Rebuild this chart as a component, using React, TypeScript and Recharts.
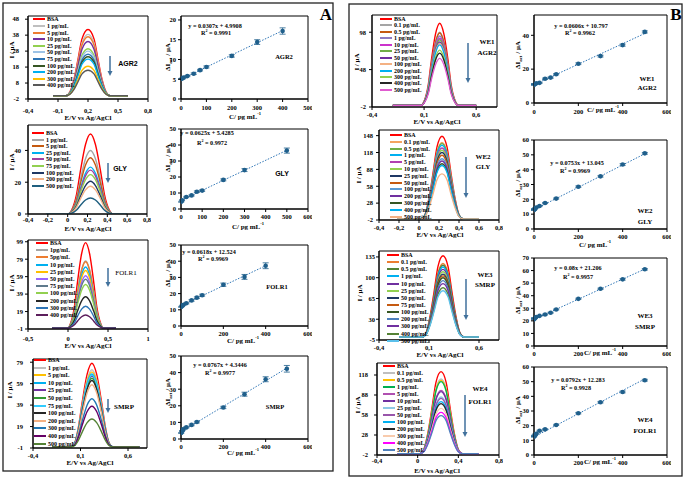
import React from "react"
import { LineChart, Line, XAxis, YAxis, ReferenceArea, ComposedChart, Scatter, ErrorBar } from "recharts"

const SERIF = "'Liberation Serif','Times New Roman',serif"
const SANS = "'Liberation Sans',Arial,sans-serif"
const DOT = "#1f5f8b"
const TREND = "#2e75b6"
const ARROW = "#41719c"

// ---------------- panel A : DPV curves ----------------
const agr2Labels = ["BSA", "1 pg/mL", "5 pg/mL", "10 pg/mL", "25 pg/mL", "50 pg/mL", "75 pg/mL", "100 pg/mL", "200 pg/mL", "300 pg/mL", "400 pg/mL"]
const agr2Peaks = [41.5, 38.5, 37, 34, 29.5, 28, 26, 24.5, 23, 18.5, 16]
const agr2Colors = ["#ff0000", "#bfbfbf", "#ed7d31", "#7030a0", "#92d050", "#9dc3e6", "#2e75b6", "#375623", "#00b0f0", "#ffc000", "#595959"]
const agr2E = [-0.15, -0.02, 0.02, 0.06, 0.1, 0.14, 0.2, 0.26, 0.3, 0.34, 0.38, 0.42, 0.6]
const agr2Shape = [0, 0, 0.06, 0.25, 0.55, 0.86, 1, 0.86, 0.55, 0.25, 0.06, 0, 0]

const glyLabels = ["BSA", "1 pg/mL", "5 pg/mL", "25 pg/mL", "50 pg/mL", "75 pg/mL", "100 pg/mL", "200 pg/mL", "500 pg/mL"]
const glyPeaks = [50.3, 40, 35.4, 29.5, 27.6, 24.8, 20.6, 17.5, 10.1]
const glyColors = ["#ff0000", "#a5a5a5", "#c55a11", "#00b0f0", "#a040a0", "#92d050", "#1f3864", "#f4b183", "#1f5f7f"]
const glyE = [-0.22, 0, 0.04, 0.09, 0.13, 0.18, 0.23, 0.28, 0.33, 0.37, 0.42, 0.46, 0.6]
const glyShape = [0, 0, 0.05, 0.25, 0.55, 0.87, 1, 0.87, 0.55, 0.25, 0.05, 0, 0]

const folLabels = ["BSA", "1pg/mL", "5pg/mL", "10 pg/mL", "25 pg/mL", "50 pg/mL", "75 pg/mL", "100 pg/mL", "200 pg/mL", "300 pg/mL", "400 pg/mL"]
const folPeaks = [98, 77, 76, 70, 66, 60, 56, 50, 36, 25, 15]
const folColors = ["#ff0000", "#a5a5a5", "#ed7d31", "#00b0f0", "#ffc000", "#9966ff", "#5f7a8c", "#92d050", "#262626", "#2e75b6", "#5c1e5c"]
const folE = [-0.2, 0, 0.03, 0.08, 0.12, 0.17, 0.22, 0.27, 0.32, 0.36, 0.41, 0.44, 0.6]
const folShape = [0, 0, 0.05, 0.25, 0.55, 0.87, 1, 0.87, 0.55, 0.25, 0.05, 0, 0]

const smrpLabels = ["BSA", "1 pg/mL", "5 pg/mL", "10 pg/mL", "25 pg/mL", "50 pg/mL", "75 pg/mL", "100 pg/mL", "200 pg/mL", "300 pg/mL", "400 pg/mL", "500 pg/mL"]
const smrpPeaks = [78, 72, 70, 68, 66, 64, 67, 62, 58, 45, 38, 26]
const smrpColors = ["#ff0000", "#bfbfbf", "#ffc000", "#00b0f0", "#7030a0", "#339933", "#33ccff", "#262626", "#f4b183", "#1f77b4", "#660066", "#548235"]
const smrpE = [-0.2, 0, 0.04, 0.08, 0.12, 0.17, 0.22, 0.27, 0.32, 0.36, 0.4, 0.44, 0.72]
const smrpShape = [0, 0, 0.05, 0.25, 0.55, 0.87, 1, 0.87, 0.55, 0.25, 0.05, 0, 0]

// ---------------- panel B : DPV curves ----------------
const we1Labels = ["BSA", "0.1 pg/mL", "0.5 pg/mL", "1 pg/mL", "10 pg/mL", "25 pg/mL", "50 pg/mL", "100 pg/mL", "200 pg/mL", "300 pg/mL", "400 pg/mL", "500 pg/mL"]
const we1Peaks = [110, 98, 97, 93, 90, 88, 85, 83, 81, 74, 70, 63]
const we1Colors = ["#ff0000", "#a5a5a5", "#c55a11", "#8e7cc3", "#cc33cc", "#70ad47", "#7030a0", "#f4b183", "#00b0f0", "#92d050", "#262626", "#e05cd0"]
const we1E = [-0.2, 0.07, 0.1, 0.14, 0.17, 0.21, 0.25, 0.29, 0.33, 0.36, 0.4, 0.43, 0.6]
const we1Shape = [0, 0, 0.05, 0.25, 0.55, 0.87, 1, 0.87, 0.55, 0.25, 0.05, 0, 0]

const we2Labels = ["BSA", "0.1 pg/mL", "0.5 pg/mL", "1 pg/mL", "5 pg/mL", "10 pg/mL", "25 pg/mL", "50 pg/mL", "100 pg/mL", "200 pg/mL", "300 pg/mL", "400 pg/mL", "500 pg/mL"]
const we2Peaks = [147, 136, 134, 131, 126, 122, 118, 113, 107, 103, 98, 95, 80]
const we2Colors = ["#ff0000", "#f4a460", "#70ad47", "#00b0f0", "#b040b0", "#92d050", "#1f3864", "#c55a11", "#5b9bd5", "#7030a0", "#375623", "#00b0f0", "#f4b183"]
const we2E = [-0.22, 0.02, 0.06, 0.1, 0.14, 0.18, 0.23, 0.28, 0.32, 0.36, 0.4, 0.44, 0.6]
const we2Shape = [0, 0, 0.05, 0.25, 0.55, 0.87, 1, 0.87, 0.55, 0.25, 0.05, 0, 0]

const we3Labels = ["BSA", "0.1 pg/mL", "0.5 pg/mL", "1 pg/mL", "10 pg/mL", "25 pg/mL", "50 pg/mL", "75 pg/mL", "100 pg/mL", "200 pg/mL", "300 pg/mL", "400 pg/mL", "500 pg/mL"]
const we3Peaks = [137, 124, 121, 118, 114, 110, 106, 103, 100, 95, 90, 83, 78]
const we3Colors = ["#ff0000", "#ed7d31", "#548235", "#00b0f0", "#7030a0", "#92d050", "#1f3864", "#c55a11", "#375623", "#4f81bd", "#7030a0", "#548235", "#5bc0eb"]
const we3E = [-0.2, 0.03, 0.07, 0.11, 0.15, 0.19, 0.24, 0.29, 0.33, 0.37, 0.41, 0.45, 0.6]
const we3Shape = [0, 0, 0.05, 0.25, 0.55, 0.87, 1, 0.87, 0.55, 0.25, 0.05, 0, 0]

const we4Labels = ["BSA", "0.1 pg/mL", "0.5 pg/mL", "1 pg/mL", "5 pg/mL", "10 pg/mL", "25 pg/mL", "50 pg/mL", "100 pg/mL", "200 pg/mL", "300 pg/mL", "400 pg/mL", "500 pg/mL"]
const we4Peaks = [123, 112, 110, 108, 95, 93, 85, 83, 78, 75, 68, 62, 57]
const we4Colors = ["#ff0000", "#bfbfbf", "#ffc000", "#00b050", "#b050b0", "#7030a0", "#8ecae6", "#9955aa", "#00b0f0", "#262626", "#f8cbad", "#ff00ff", "#4f81bd"]
const we4E = [-0.2, 0.02, 0.06, 0.1, 0.14, 0.18, 0.23, 0.28, 0.32, 0.36, 0.4, 0.44, 0.6]
const we4Shape = [0, 0, 0.05, 0.25, 0.55, 0.87, 1, 0.87, 0.55, 0.25, 0.05, 0, 0]

// ---------------- calibration points ----------------
const agr2Conc = [1, 5, 10, 25, 50, 75, 100, 200, 300, 400]
const agr2Delta = [5.1, 5.2, 5.4, 5.8, 6.4, 7.3, 8.1, 10.9, 14.4, 17.2]
const agr2Err = [0.1, 0.1, 0.1, 0.15, 0.2, 0.2, 0.25, 0.3, 0.6, 0.8]
const agr2Fit = [[0, 5.0], [400, 17.3]]

const glyConc = [1, 5, 25, 50, 75, 100, 200, 300, 500]
const glyDelta = [4.5, 5.5, 7.5, 8.5, 10.8, 11.5, 18.2, 24.3, 36.5]
const glyErr = [0.3, 0.3, 0.4, 0.4, 0.5, 0.5, 0.6, 0.9, 1.6]
const glyFit = [[0, 5.4], [500, 36.7]]

const folConc = [1, 5, 10, 25, 50, 75, 100, 200, 300, 400]
const folDelta = [11.8, 12.5, 13, 14, 15.8, 17.5, 19, 25.5, 30.3, 37.2]
const folErr = [0.3, 0.3, 0.4, 0.4, 0.5, 0.5, 0.6, 1.0, 1.5, 1.8]
const folFit = [[0, 12.5], [400, 37.2]]

const smrpConc = [1, 5, 10, 25, 50, 75, 200, 300, 400, 500]
const smrpDelta = [3.6, 4.8, 5.8, 7.0, 8.5, 10.2, 19, 27, 36, 42.3]
const smrpErr = [0.3, 0.3, 0.4, 0.4, 0.5, 0.5, 0.7, 1.2, 1.5, 2.0]
const smrpFit = [[0, 4.3], [500, 42.7]]

const we1Conc = [0.1, 0.5, 1, 10, 25, 50, 75, 100, 200, 300, 400, 500]
const we1Delta = [10.8, 11.0, 11.2, 11.6, 11.9, 14.3, 15, 17, 23.2, 27.7, 34.2, 42]
const we1Err = [0.3, 0.3, 0.3, 0.3, 0.3, 0.4, 0.4, 0.4, 0.5, 0.5, 0.6, 0.6]
const we1Fit = [[0, 10.8], [500, 41.1]]

const we2Conc = [0.1, 0.5, 1, 5, 10, 25, 50, 100, 200, 300, 400, 500]
const we2Delta = [12.8, 13.2, 13.5, 14.0, 14.5, 15.5, 17.5, 20.5, 28.5, 35.5, 43.5, 51]
const we2Err = [0.3, 0.3, 0.3, 0.3, 0.3, 0.4, 0.4, 0.4, 0.5, 0.5, 0.6, 0.6]
const we2Fit = [[0, 13.0], [500, 50.7]]

const we3Conc = [0.1, 0.5, 1, 10, 25, 50, 75, 100, 200, 300, 400, 500]
const we3Delta = [21.2, 21.8, 22.3, 23, 24, 25, 26.5, 29, 37.5, 45.5, 53, 61]
const we3Err = [0.3, 0.3, 0.3, 0.3, 0.3, 0.4, 0.4, 0.4, 0.5, 0.5, 0.6, 0.6]
const we3Fit = [[0, 21.2], [500, 61.2]]

const we4Conc = [0.1, 0.5, 1, 5, 10, 25, 50, 100, 200, 300, 400, 500]
const we4Delta = [12.5, 12.8, 13.2, 14, 14.5, 16.5, 17.5, 20.5, 28.5, 36, 43, 51]
const we4Err = [0.3, 0.3, 0.3, 0.3, 0.3, 0.4, 0.4, 0.4, 0.5, 0.5, 0.6, 0.6]
const we4Fit = [[0, 12.3], [500, 51.9]]

const comma = (v: number) => String(v).replace(".", ",")
const tickFont = { fontSize: 6.5, fontWeight: 700, fontFamily: SERIF, fill: "#000" }

function Txt({ x, y, fs = 7, sans = false, bold = true, rot = false, children }: any) {
  return (
    <div
      style={{
        position: "absolute", left: x, top: y, whiteSpace: "nowrap", lineHeight: 1,
        transform: `translate(-50%,-50%)${rot ? " rotate(-90deg)" : ""}`,
        fontSize: fs, fontWeight: bold ? 700 : 400, fontFamily: sans ? SANS : SERIF, color: "#000",
      }}
    >
      {children}
    </div>
  )
}

const Sup = ({ children }: any) => <span style={{ fontSize: "0.65em", verticalAlign: "super", lineHeight: 0 }}>{children}</span>
const Sub = ({ children }: any) => <span style={{ fontSize: "0.7em", verticalAlign: "sub", lineHeight: 0 }}>{children}</span>

function PeakLegend({ x, y, row, labels, colors, fs = 6, lineW = 12 }: any) {
  return (
    <div style={{ position: "absolute", left: x, top: y - row / 2 }}>
      {labels.map((l: string, i: number) => (
        <div key={l} style={{ position: "absolute", left: 0, top: i * row, height: row, display: "flex", alignItems: "center", whiteSpace: "nowrap" }}>
          <span style={{ display: "inline-block", width: lineW, borderTop: `2px solid ${colors[i]}`, marginRight: 2 }} />
          <span style={{ fontSize: fs, fontWeight: 700, fontFamily: SERIF, lineHeight: 1 }}>{l}</span>
        </div>
      ))}
    </div>
  )
}

function Dpv({ box, E, shape, peaks, colors, xDomain, xTicks, yDomain, yTicks, xOff = 8, yGap = 6 }: any) {
  const [bx, by, bw, bh] = box
  const L = 34, T = 4, R = 4, B = 24
  const rows = E.map((e: number, i: number) => {
    const r: any = { E: e }
    peaks.forEach((p: number, j: number) => (r["s" + j] = +(p * shape[i]).toFixed(2)))
    return r
  })
  return (
    <div style={{ position: "absolute", left: bx - L, top: by - T }}>
      <LineChart width={bw + L + R} height={bh + T + B} data={rows} margin={{ top: T, right: R, left: 0, bottom: 0 }}>
        <XAxis dataKey="E" type="number" domain={xDomain} ticks={xTicks} interval={0} allowDataOverflow height={B}
          tickFormatter={comma} tick={tickFont} tickSize={3} tickMargin={Math.max(0, xOff - 5.3)}
          axisLine={{ stroke: "#000" }} tickLine={{ stroke: "#000" }} />
        <YAxis type="number" domain={yDomain} ticks={yTicks} interval={0} allowDataOverflow width={L}
          tick={tickFont} tickSize={3} tickMargin={Math.max(0, yGap - 3)}
          axisLine={{ stroke: "#000" }} tickLine={{ stroke: "#000" }} />
        <ReferenceArea x1={xDomain[0]} x2={xDomain[1]} y1={yDomain[0]} y2={yDomain[1]} fill="none" stroke="#000" strokeWidth={1} ifOverflow="visible" />
        {peaks.map((_: number, j: number) => (
          <Line key={j} dataKey={"s" + j} type="monotone" stroke={colors[j]} strokeWidth={1.4} dot={false} isAnimationActive={false} />
        ))}
      </LineChart>
    </div>
  )
}

function Calib({ box, conc, delta, err, fit, xDomain, xTicks, yDomain, yTicks, xOff = 8, yGap = 5 }: any) {
  const [bx, by, bw, bh] = box
  const L = 34, T = 4, R = 4, B = 24
  const pts = conc.map((c: number, i: number) => ({ c, v: delta[i], e: err[i] }))
  const line = fit.map((f: number[]) => ({ c: f[0], v: f[1] }))
  return (
    <div style={{ position: "absolute", left: bx - L, top: by - T }}>
      <ComposedChart width={bw + L + R} height={bh + T + B} margin={{ top: T, right: R, left: 0, bottom: 0 }}>
        <XAxis dataKey="c" type="number" domain={xDomain} ticks={xTicks} interval={0} allowDataOverflow height={B}
          tick={tickFont} tickSize={3} tickMargin={Math.max(0, xOff - 5.3)}
          axisLine={{ stroke: "#000" }} tickLine={{ stroke: "#000" }} />
        <YAxis type="number" domain={yDomain} ticks={yTicks} interval={0} allowDataOverflow width={L}
          tick={tickFont} tickSize={3} tickMargin={Math.max(0, yGap - 3)}
          axisLine={{ stroke: "#000" }} tickLine={{ stroke: "#000" }} />
        <ReferenceArea x1={xDomain[0]} x2={xDomain[1]} y1={yDomain[0]} y2={yDomain[1]} fill="none" stroke="#000" strokeWidth={1} ifOverflow="visible" />
        <Line data={line} dataKey="v" type="linear" stroke={TREND} strokeWidth={1} strokeDasharray="1.5 1.5" dot={false} isAnimationActive={false} />
        <Scatter data={pts} dataKey="v" fill={DOT} isAnimationActive={false}
          shape={(p: any) => <circle cx={p.cx} cy={p.cy} r={2.3} fill={DOT} />}>
          <ErrorBar dataKey="e" direction="y" width={3} stroke={DOT} strokeWidth={0.8} />
        </Scatter>
      </ComposedChart>
    </div>
  )
}

const arrows = [
  [110, 56, 76], [108, 163, 183], [108, 268, 287], [108, 399, 413],
  [468, 43, 83], [466, 157, 198], [466, 279, 320], [465, 395, 437],
]

const EV = "E/V vs Ag/AgCl"
const IUA = "I / μA"
const DI = <span>ΔI<Sub>act</Sub> / μA</span>
const CX = <span>C/ pg mL<Sup>-1</Sup></span>

export default function App() {
  return (
    <div style={{ position: "absolute", left: 0, top: 0, width: 685, height: 479, background: "#fff", overflow: "hidden" }}>
      <svg width={685} height={479} style={{ position: "absolute", left: 0, top: 0 }}>
        <rect x={3} y={3} width={330} height={468} fill="none" stroke="#222" strokeWidth={1.3} />
        <rect x={349} y={4} width={333} height={472} fill="none" stroke="#222" strokeWidth={1.3} />
        {arrows.map(([x, y1, y2], i) => (
          <g key={i}>
            <line x1={x} y1={y1} x2={x} y2={y2 - 4} stroke={ARROW} strokeWidth={1.5} />
            <polygon points={`${x - 2.5},${y2 - 5} ${x + 2.5},${y2 - 5} ${x},${y2}`} fill={ARROW} />
          </g>
        ))}
      </svg>

      {/* ---------- A : AGR2 ---------- */}
      <Dpv box={[28, 16, 120, 83]} E={agr2E} shape={agr2Shape} peaks={agr2Peaks} colors={agr2Colors}
        xDomain={[-0.4, 0.8]} xTicks={[-0.4, -0.1, 0.2, 0.5, 0.8]} yDomain={[-2, 50]} yTicks={[-2, 8, 18, 28, 38, 48]} xOff={12} yGap={9} />
      <PeakLegend x={33} y={19.5} row={6.6} labels={agr2Labels} colors={agr2Colors} />
      <Txt x={128} y={63} fs={7} sans>AGR2</Txt>
      <Txt x={12} y={50} rot>{IUA}</Txt>
      <Txt x={88} y={118}>{EV}</Txt>
      <Calib box={[181, 16, 127, 83]} conc={agr2Conc} delta={agr2Delta} err={agr2Err} fit={agr2Fit}
        xDomain={[0, 500]} xTicks={[0, 100, 200, 300, 400, 500]} yDomain={[0, 21]} yTicks={[0, 5, 10, 15, 20]} xOff={9} />
      <Txt x={215} y={26} fs={6.2}>y = 0.0307x + 4.9908</Txt>
      <Txt x={216} y={33} fs={6.2}>R<Sup>2</Sup> = 0.9991</Txt>
      <Txt x={284} y={57} fs={6.5}>AGR2</Txt>
      <Txt x={168} y={57} rot>{DI}</Txt>
      <Txt x={245} y={117}>{CX}</Txt>
      <Txt x={326} y={14} fs={17}>A</Txt>

      {/* ---------- A : GLY ---------- */}
      <Dpv box={[28, 125, 119, 89]} E={glyE} shape={glyShape} peaks={glyPeaks} colors={glyColors}
        xDomain={[-0.4, 0.8]} xTicks={[-0.4, -0.2, 0, 0.2, 0.4, 0.6, 0.8]} yDomain={[0, 56]} yTicks={[0, 20, 40]} xOff={6} yGap={7} />
      <PeakLegend x={32} y={133} row={6.6} labels={glyLabels} colors={glyColors} />
      <Txt x={120} y={168} fs={7} sans>GLY</Txt>
      <Txt x={12} y={162} rot>{IUA}</Txt>
      <Txt x={88} y={229}>{EV}</Txt>
      <Calib box={[181, 129, 127, 80]} conc={glyConc} delta={glyDelta} err={glyErr} fit={glyFit}
        xDomain={[0, 600]} xTicks={[0, 100, 200, 300, 400, 500, 600]} yDomain={[0, 50]} yTicks={[0, 10, 20, 30, 40, 50]} xOff={8} />
      <Txt x={207} y={133} fs={6.2}>y = 0.0625x + 5.4285</Txt>
      <Txt x={212} y={142.7} fs={6.2}>R<Sup>2</Sup> = 0.9972</Txt>
      <Txt x={282} y={173} fs={7} sans>GLY</Txt>
      <Txt x={168} y={158} rot>{DI}</Txt>
      <Txt x={248} y={227}>{CX}</Txt>

      {/* ---------- A : FOLR1 ---------- */}
      <Dpv box={[28, 240, 120, 89]} E={folE} shape={folShape} peaks={folPeaks} colors={folColors}
        xDomain={[-0.5, 1]} xTicks={[-0.5, 0, 0.5, 1]} yDomain={[-1, 101]} yTicks={[-1, 19, 39, 59, 79, 99]} xOff={10} yGap={5} />
      <PeakLegend x={36} y={243} row={7.2} labels={folLabels} colors={folColors} />
      <Txt x={126} y={273} fs={7} bold={false}>FOLR1</Txt>
      <Txt x={12} y={283} rot>{IUA}</Txt>
      <Txt x={88} y={346}>{EV}</Txt>
      <Calib box={[181, 245, 127, 81]} conc={folConc} delta={folDelta} err={folErr} fit={folFit}
        xDomain={[0, 600]} xTicks={[0, 200, 400, 600]} yDomain={[0, 50]} yTicks={[0, 10, 20, 30, 40, 50]} xOff={8} />
      <Txt x={209} y={251.7} fs={6.2}>y = 0.0618x + 12.524</Txt>
      <Txt x={213} y={259.3} fs={6.2}>R<Sup>2</Sup> = 0.9969</Txt>
      <Txt x={277} y={287} fs={6.5}>FOLR1</Txt>
      <Txt x={168} y={273} rot>{DI}</Txt>
      <Txt x={243} y={341}>{CX}</Txt>

      {/* ---------- A : SMRP ---------- */}
      <Dpv box={[33, 359, 114, 89]} E={smrpE} shape={smrpShape} peaks={smrpPeaks} colors={smrpColors}
        xDomain={[-0.4, 0.8]} xTicks={[-0.4, 0.1, 0.6]} yDomain={[-1, 82]} yTicks={[-1, 19, 39, 59, 79]} xOff={8} yGap={10} />
      <PeakLegend x={34} y={360} row={7.6} labels={smrpLabels} colors={smrpColors} />
      <Txt x={124} y={407} fs={7}>SMRP</Txt>
      <Txt x={10} y={390} rot>{IUA}</Txt>
      <Txt x={90} y={463}>{EV}</Txt>
      <Calib box={[181, 356, 127, 83]} conc={smrpConc} delta={smrpDelta} err={smrpErr} fit={smrpFit}
        xDomain={[0, 600]} xTicks={[0, 200, 400, 600]} yDomain={[0, 50]} yTicks={[0, 10, 20, 30, 40, 50]} xOff={7.5} />
      <Txt x={220} y={365} fs={6.2}>y = 0.0767x + 4.3446</Txt>
      <Txt x={220} y={372.7} fs={6.2}>R<Sup>2</Sup> = 0.9977</Txt>
      <Txt x={275} y={406.7} fs={6.5}>SMRP</Txt>
      <Txt x={168} y={392} rot>{DI}</Txt>
      <Txt x={243} y={453}>{CX}</Txt>

      {/* ---------- B : WE1 AGR2 ---------- */}
      <Dpv box={[372, 15, 125, 92]} E={we1E} shape={we1Shape} peaks={we1Peaks} colors={we1Colors}
        xDomain={[-0.4, 0.8]} xTicks={[-0.4, 0.1, 0.6]} yDomain={[-2, 121]} yTicks={[-2, 48, 98]} xOff={8} yGap={6} />
      <PeakLegend x={380} y={19} row={6.45} labels={we1Labels} colors={we1Colors} />
      <Txt x={487} y={42} fs={7}>WE1</Txt>
      <Txt x={487} y={53} fs={7}>AGR2</Txt>
      <Txt x={357} y={62} rot>{IUA}</Txt>
      <Txt x={437} y={122}>{EV}</Txt>
      <Calib box={[534, 15, 133, 88]} conc={we1Conc} delta={we1Delta} err={we1Err} fit={we1Fit}
        xDomain={[0, 600]} xTicks={[0, 200, 400, 600]} yDomain={[0, 52]} yTicks={[0, 20, 40]} xOff={8.5} />
      <Txt x={581} y={26} fs={6.2}>y = 0.0606x + 10.797</Txt>
      <Txt x={580} y={33} fs={6.2}>R<Sup>2</Sup> = 0.9962</Txt>
      <Txt x={647} y={79} fs={7}>WE1</Txt>
      <Txt x={647} y={88} fs={7}>AGR2</Txt>
      <Txt x={518} y={55} rot>{DI}</Txt>
      <Txt x={603} y={110}>{CX}</Txt>
      <Txt x={676} y={14} fs={17}>B</Txt>

      {/* ---------- B : WE2 GLY ---------- */}
      <Dpv box={[379, 130, 120, 90]} E={we2E} shape={we2Shape} peaks={we2Peaks} colors={we2Colors}
        xDomain={[-0.4, 0.8]} xTicks={[-0.4, -0.2, 0, 0.2, 0.4, 0.6, 0.8]} yDomain={[-2, 158]} yTicks={[-2, 28, 58, 88, 118, 148]} xOff={8} yGap={6} />
      <PeakLegend x={390} y={135} row={6.8} labels={we2Labels} colors={we2Colors} />
      <Txt x={483} y={157} fs={7}>WE2</Txt>
      <Txt x={483} y={167} fs={7}>GLY</Txt>
      <Txt x={359} y={175} rot>{IUA}</Txt>
      <Txt x={440} y={235}>{EV}</Txt>
      <Calib box={[534, 140, 133, 89]} conc={we2Conc} delta={we2Delta} err={we2Err} fit={we2Fit}
        xDomain={[0, 600]} xTicks={[0, 200, 400, 600]} yDomain={[0, 60]} yTicks={[0, 10, 20, 30, 40, 50, 60]} xOff={8} />
      <Txt x={577} y={163} fs={6.2}>y = 0.0753x + 13.045</Txt>
      <Txt x={575} y={171} fs={6.2}>R<Sup>2</Sup> = 0.9969</Txt>
      <Txt x={645} y={211} fs={7}>WE2</Txt>
      <Txt x={645} y={222} fs={7}>GLY</Txt>
      <Txt x={518} y={183} rot>{DI}</Txt>
      <Txt x={595} y={245}>{CX}</Txt>

      {/* ---------- B : WE3 SMRP ---------- */}
      <Dpv box={[379, 251, 120, 89]} E={we3E} shape={we3Shape} peaks={we3Peaks} colors={we3Colors}
        xDomain={[-0.4, 0.8]} xTicks={[-0.4, 0.1, 0.6]} yDomain={[-5, 145]} yTicks={[-5, 30, 65, 100, 135]} xOff={8} yGap={4} />
      <PeakLegend x={387} y={255} row={7.15} labels={we3Labels} colors={we3Colors} />
      <Txt x={485} y={275} fs={7}>WE3</Txt>
      <Txt x={485} y={285} fs={7}>SMRP</Txt>
      <Txt x={360} y={293} rot>{IUA}</Txt>
      <Txt x={440} y={355}>{EV}</Txt>
      <Calib box={[534, 258, 133, 88]} conc={we3Conc} delta={we3Delta} err={we3Err} fit={we3Fit}
        xDomain={[0, 600]} xTicks={[0, 200, 400, 600]} yDomain={[0, 70]} yTicks={[0, 10, 20, 30, 40, 50, 60, 70]} xOff={8} />
      <Txt x={578} y={268} fs={6.2}>y = 0.08x + 21.206</Txt>
      <Txt x={578} y={277} fs={6.2}>R<Sup>2</Sup> = 0.9957</Txt>
      <Txt x={645} y={316} fs={7}>WE3</Txt>
      <Txt x={645} y={327} fs={7}>SMRP</Txt>
      <Txt x={518} y={300} rot>{DI}</Txt>
      <Txt x={600} y={353}>{CX}</Txt>

      {/* ---------- B : WE4 FOLR1 ---------- */}
      <Dpv box={[377, 363, 122, 92]} E={we4E} shape={we4Shape} peaks={we4Peaks} colors={we4Colors}
        xDomain={[-0.4, 0.8]} xTicks={[-0.4, 0, 0.4, 0.8]} yDomain={[-2, 136]} yTicks={[-2, 28, 58, 88, 118]} xOff={5.5} yGap={9} />
      <PeakLegend x={383} y={366} row={7} labels={we4Labels} colors={we4Colors} />
      <Txt x={480} y={389} fs={7}>WE4</Txt>
      <Txt x={480} y={402} fs={7}>FOLR1</Txt>
      <Txt x={358} y={405} rot>{IUA}</Txt>
      <Txt x={437} y={470.5} fs={6.8}>{EV}</Txt>
      <Calib box={[534, 367, 133, 88]} conc={we4Conc} delta={we4Delta} err={we4Err} fit={we4Fit}
        xDomain={[0, 600]} xTicks={[0, 200, 400, 600]} yDomain={[0, 60]} yTicks={[0, 10, 20, 30, 40, 50, 60]} xOff={8} />
      <Txt x={578} y={380} fs={6.2}>y = 0.0792x + 12.283</Txt>
      <Txt x={576} y={388} fs={6.2}>R<Sup>2</Sup> = 0.9928</Txt>
      <Txt x={645} y={420} fs={7}>WE4</Txt>
      <Txt x={645} y={431} fs={7}>FOLR1</Txt>
      <Txt x={518} y={410} rot>{DI}</Txt>
      <Txt x={600} y={462}>{CX}</Txt>
    </div>
  )
}
